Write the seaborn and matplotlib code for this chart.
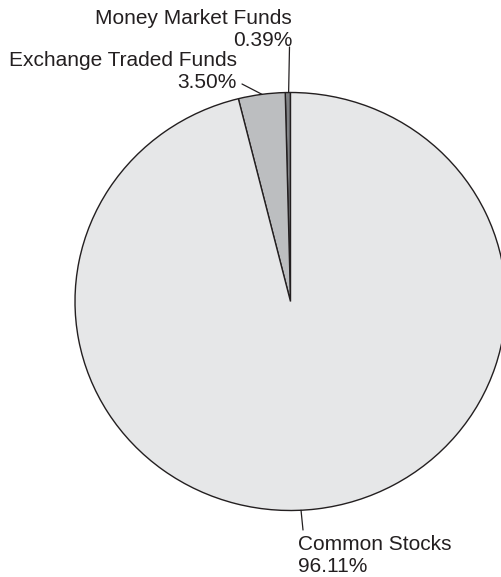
import numpy as np
import matplotlib
matplotlib.use("Agg")
import matplotlib.pyplot as plt
import seaborn as sns

# Portfolio composition
categories = ["Money Market Funds", "Exchange Traded Funds", "Common Stocks"]
shares = [0.39, 3.50, 96.11]
pct_labels = ["0.39%", "3.50%", "96.11%"]
colors = ["#808285", "#bcbec0", "#e6e7e8"]


def make_chart():
    sns.set_theme(style="white")
    plt.rcParams["font.family"] = ["Liberation Sans", "DejaVu Sans"]

    fig = plt.figure(figsize=(5.01, 5.77), dpi=100)
    W, H = 501, 577
    cx, cy, rx, ry = 290.5, 301.5, 215.5, 209.0
    ax = fig.add_axes([(cx - rx) / W, (H - cy - ry) / H, 2 * rx / W, 2 * ry / H])

    ax.pie(shares, colors=colors, startangle=90, counterclock=True,
           wedgeprops=dict(edgecolor="#231f20", linewidth=1.0))
    ax.set_aspect("auto")
    ax.set_xlim(-1, 1)
    ax.set_ylim(-1, 1)
    ax.axis("off")

    def to_data(px, py):
        return (px - cx) / rx, (cy - py) / ry

    # leader line: point on the rim (angle, deg) -> line end (px); text block
    leaders = [
        (90.5, (289.5, 47), (292, 29), "right", "right"),
        (97.6, (242, 84), (237, 71.5), "right", "right"),
        (272.8, (303, 530), (298, 556), "left", "left"),
    ]
    for name, pct, (ang, end, txt, ha, ma) in zip(categories, pct_labels, leaders):
        a = np.deg2rad(ang)
        ex, ey = to_data(*end)
        ax.plot([np.cos(a), ex], [np.sin(a), ey], color="#231f20",
                linewidth=0.9, clip_on=False)
        tx, ty = to_data(*txt)
        ax.text(tx, ty, f"{name}\n{pct}", ha=ha, va="center", multialignment=ma,
                fontsize=15, linespacing=1.2, color="#231f20", clip_on=False)

    fig.savefig("out.png", dpi=100)


if __name__ == "__main__":
    make_chart()
